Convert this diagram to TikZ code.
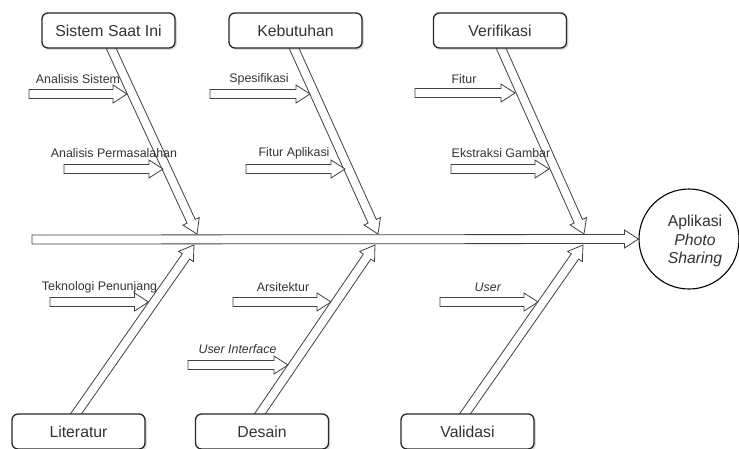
\documentclass[tikz,border=0pt]{standalone}
\usepackage{fontspec}
\setmainfont{Liberation Sans}
\usetikzlibrary{calc,shadows}

\tikzset{
  causebox/.style={draw=black!85, line width=1.3pt, rounded corners=6pt, fill=white,
    minimum width=133pt, minimum height=35pt, text=black!80,
    font=\fontsize{15.8}{19}\selectfont,
    drop shadow={opacity=0.3, shadow xshift=1.8pt, shadow yshift=-1.8pt}},
  fatline/.style={draw=black!75, line width=0.8pt, fill=white, line join=miter},
  lbl/.style={text=black!80, font=\fontsize{12.4}{14}\selectfont, inner sep=0pt},
}

% hollow block arrow from #2 to #3, #1 = half width of the shaft
\newcommand{\fatarrow}[3][4.5pt]{%
  \draw[fatline] ($(#2)!#1!90:(#3)$)
    -- ($(#3)!14pt!(#2)!#1!90:(#3)$)
    -- ($(#3)!14pt!(#2)!9pt!90:(#3)$)
    -- (#3)
    -- ($(#3)!14pt!(#2)!9pt!-90:(#3)$)
    -- ($(#3)!14pt!(#2)!#1!-90:(#3)$)
    -- ($(#2)!#1!-90:(#3)$) -- cycle;}

\begin{document}
\begin{tikzpicture}[x=1pt,y=-1pt]
\useasboundingbox (0,0) rectangle (739,448);

% spine
\coordinate (tail) at (32,239.5);
\node[draw=black, line width=1.1pt, circle, fill=white, minimum size=100pt] (goal) at (689,239) {};
\node[align=center, text=black!80, font=\fontsize{15.8}{18.5}\selectfont] (goaltxt) at (695,241)
  {Aplikasi\\\textit{Photo}\\\textit{Sharing}};
\fatarrow{tail}{goal.west}

% bones
\coordinate (s1) at (108.4,42.4);  \coordinate (t1) at (197,234);
\coordinate (s2) at (291.4,42.4);  \coordinate (t2) at (378,234);
\coordinate (s3) at (498.5,42.4);  \coordinate (t3) at (584,234);
\coordinate (s4) at (71,421);      \coordinate (t4) at (194,245);
\coordinate (s5) at (255,421);     \coordinate (t5) at (375,245);
\coordinate (s6) at (460,421);     \coordinate (t6) at (583,245);
\foreach \i in {1,...,6} {
  \fatarrow{s\i}{t\i}
}

% sub causes
\coordinate (a1) at (29,94);   \coordinate (b1) at (127,94);
\coordinate (a2) at (64,169);  \coordinate (b2) at (163,169);
\coordinate (a3) at (210,94);  \coordinate (b3) at (310,94);
\coordinate (a4) at (246,169); \coordinate (b4) at (345,169);
\coordinate (a5) at (415,93);  \coordinate (b5) at (515,93);
\coordinate (a6) at (451,169); \coordinate (b6) at (549,169);
\coordinate (a7) at (50,302);  \coordinate (b7) at (148.5,302);
\coordinate (a8) at (233,302); \coordinate (b8) at (331,302);
\coordinate (a9) at (188,365); \coordinate (b9) at (288,365);
\coordinate (a10) at (440,302); \coordinate (b10) at (538,302);
\foreach \i in {1,...,10} {
  \fatarrow{a\i}{b\i}
}

\node[lbl] (l1) at (78,79) {Analisis Sistem};
\node[lbl] (l2) at (114,153) {Analisis Permasalahan};
\node[lbl] (l3) at (259,79) {Spesifikasi};
\node[lbl] (l4) at (294,153) {Fitur Aplikasi};
\node[lbl] (l5) at (464,79) {Fitur};
\node[lbl] (l6) at (501,153) {Ekstraksi Gambar};
\node[lbl] (l7) at (99.5,287) {Teknologi Penunjang};
\node[lbl] (l8) at (283,287) {Arsitektur};
\node[lbl] (l9) at (237.5,349) {\textit{User Interface}};
\node[lbl] (l10) at (488,287) {\textit{User}};

% cause boxes
\node[causebox] (sistem) at (108.5,30.5) {Sistem Saat Ini};
\node[causebox] (butuh) at (295.5,30.5) {Kebutuhan};
\node[causebox] (verif) at (500,30.5) {Verifikasi};
\node[causebox] (lit) at (78.5,431.5) {Literatur};
\node[causebox] (desain) at (262,431.5) {Desain};
\node[causebox] (valid) at (467.5,431.5) {Validasi};

\end{tikzpicture}
\end{document}
